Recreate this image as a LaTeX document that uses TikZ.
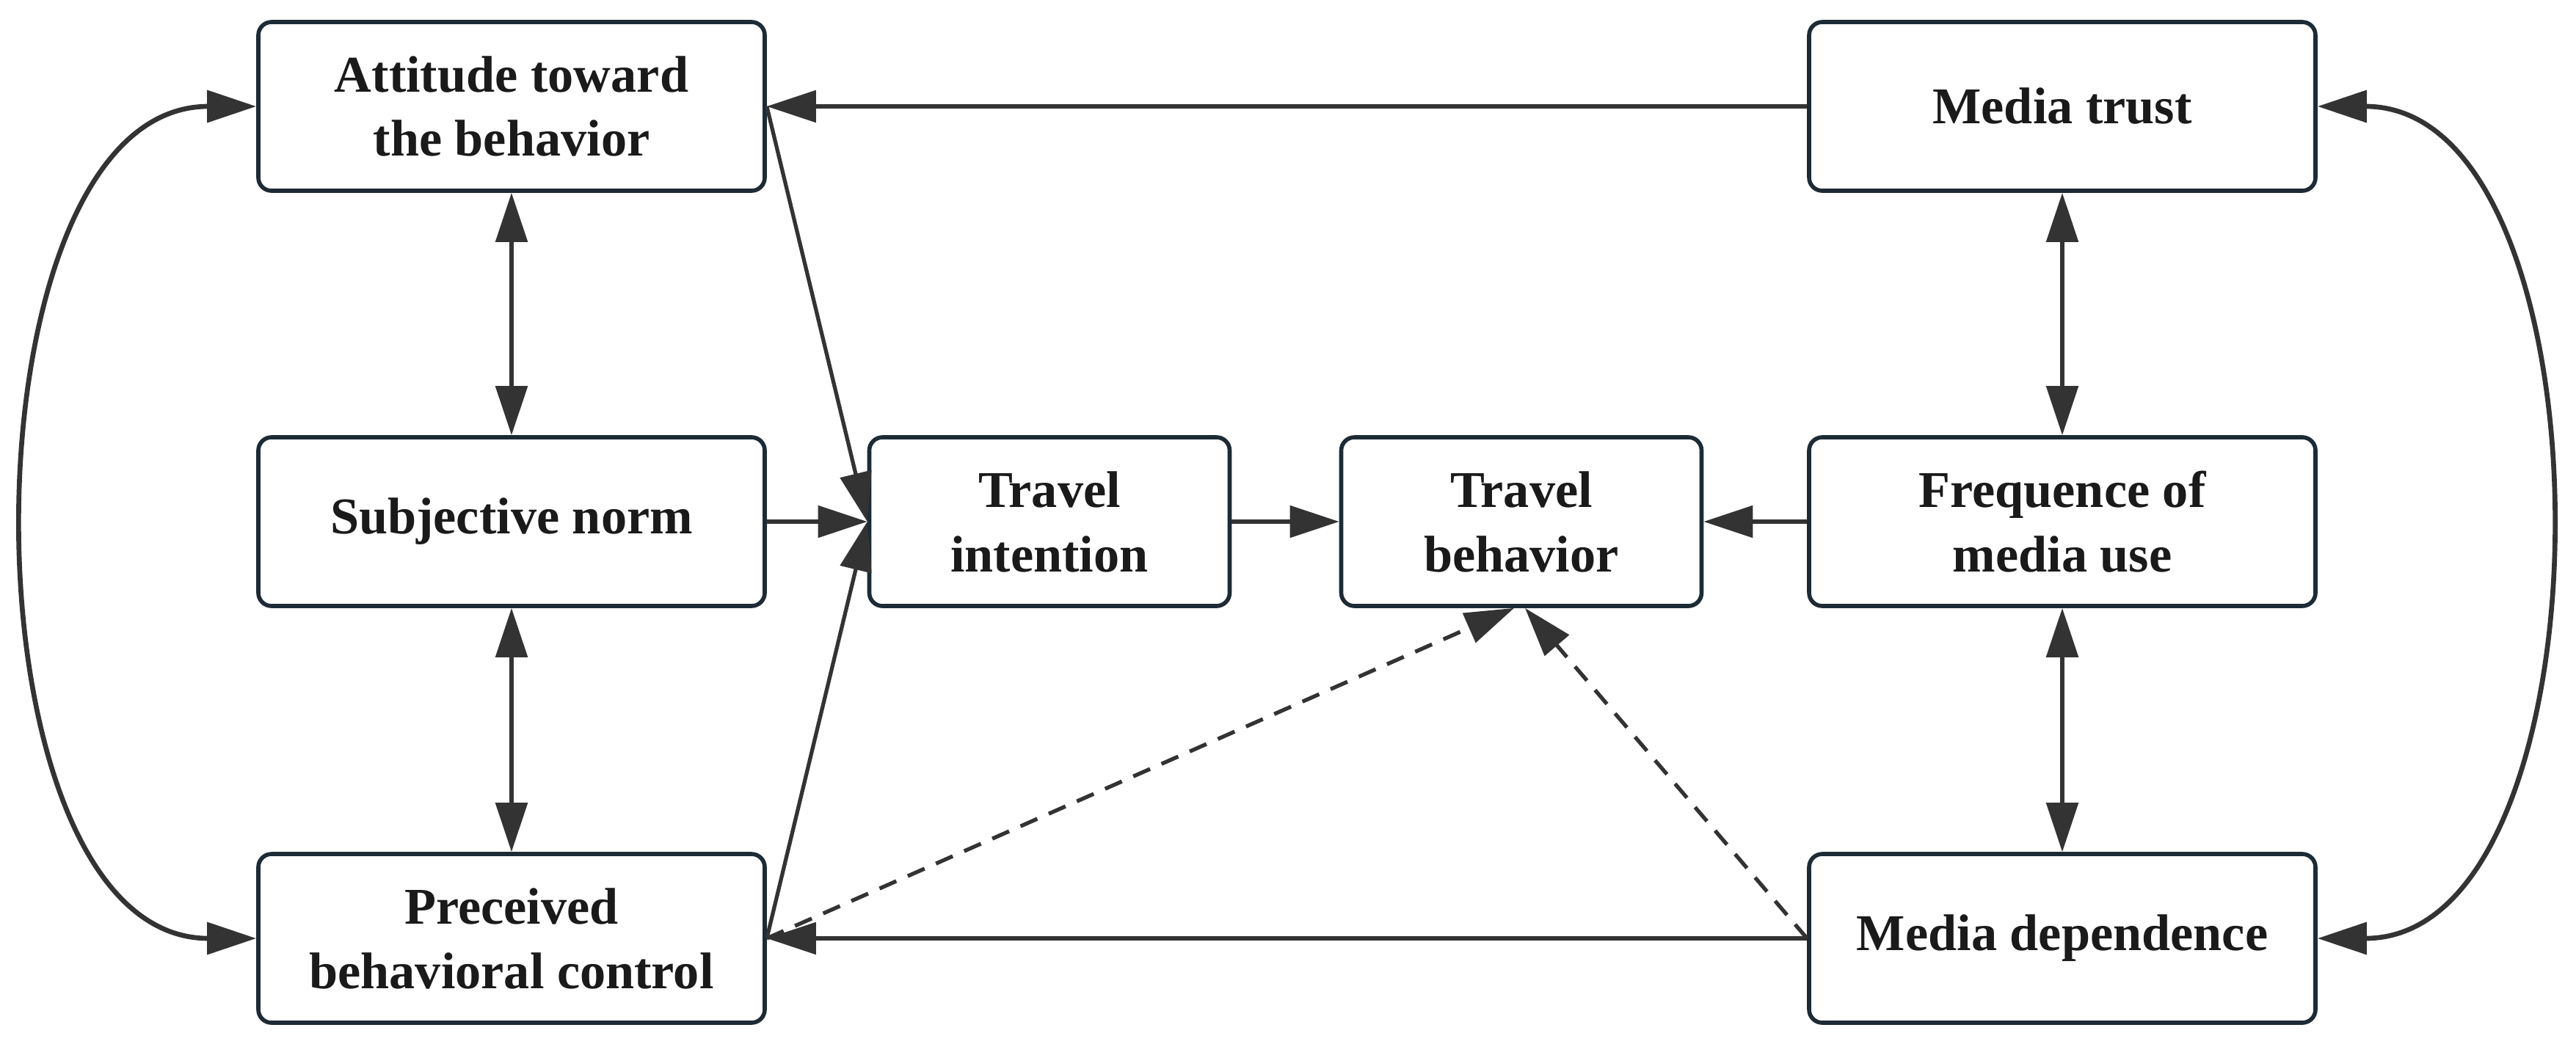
\documentclass[tikz,border=0pt]{standalone}
\usepackage{fontspec}
\setmainfont{Liberation Serif}
\usetikzlibrary{arrows.meta}
\definecolor{boxc}{HTML}{1C2B36}
\definecolor{txtc}{HTML}{1A1A1A}
\definecolor{arrc}{HTML}{333333}
\begin{document}
\begin{tikzpicture}[x=1cm,y=1cm,
  box/.style={draw=boxc, line width=1.6pt, rounded corners=0.18cm, fill=white,
    minimum height=2.3cm, align=center, text=txtc, inner sep=0pt,
    font=\bfseries\fontsize{20}{25}\selectfont},
  widebox/.style={box, minimum width=6.9cm},
  narrowbox/.style={box, minimum width=4.91cm},
  conn/.style={draw=arrc, line width=1.5pt, -{Triangle[length=0.67cm,width=0.43cm]}},
  twoway/.style={draw=arrc, line width=1.6pt,
    {Triangle[length=0.67cm,width=0.43cm]}-{Triangle[length=0.67cm,width=0.43cm]}},
  dsh/.style={conn, dash pattern=on 0.25cm off 0.17cm},
  curvy/.style={twoway, line width=1.9pt}
]
\useasboundingbox (0,0) rectangle (35.10,-14.22);
\fill[white] (0,0) rectangle (35.10,-14.22);

\node[widebox] (att) at (6.97,-1.45) {Attitude toward\\the behavior};
\node[widebox] (sn) at (6.97,-7.11) {Subjective norm};
\node[widebox] (pbc) at (6.97,-12.79) {Preceived\\behavioral control};
\node[narrowbox] (ti) at (14.30,-7.11) {Travel\\intention};
\node[narrowbox] (tb) at (20.73,-7.11) {Travel\\behavior};
\node[widebox] (mt) at (28.10,-1.45) {Media trust};
\node[widebox] (fm) at (28.10,-7.11) {Frequence of\\media use};
\node[widebox] (md) at (28.10,-12.79) {Media dependence};

\draw[conn] (mt.west) -- (att.east);
\draw[twoway] (att.south) -- (sn.north);
\draw[twoway] (sn.south) -- (pbc.north);
\draw[twoway] (mt.south) -- (fm.north);
\draw[twoway] (fm.south) -- (md.north);
\draw[conn] (att.east) -- (ti.west);
\draw[conn] (sn.east) -- (ti.west);
\draw[conn] (pbc.east) -- (ti.west);
\draw[conn] (ti.east) -- (tb.west);
\draw[conn] (fm.west) -- (tb.east);
\draw[conn] (md.west) -- (pbc.east);
\draw[dsh] (pbc.east) -- ([xshift=-0.1cm]tb.south);
\draw[dsh] (md.west) -- ([xshift=0.05cm]tb.south);
\draw[curvy] (att.west) .. controls +(-4.1,0) and +(-4.1,0) .. (pbc.west);
\draw[curvy] (mt.east) .. controls +(4.1,0) and +(4.1,0) .. (md.east);
\end{tikzpicture}
\end{document}
